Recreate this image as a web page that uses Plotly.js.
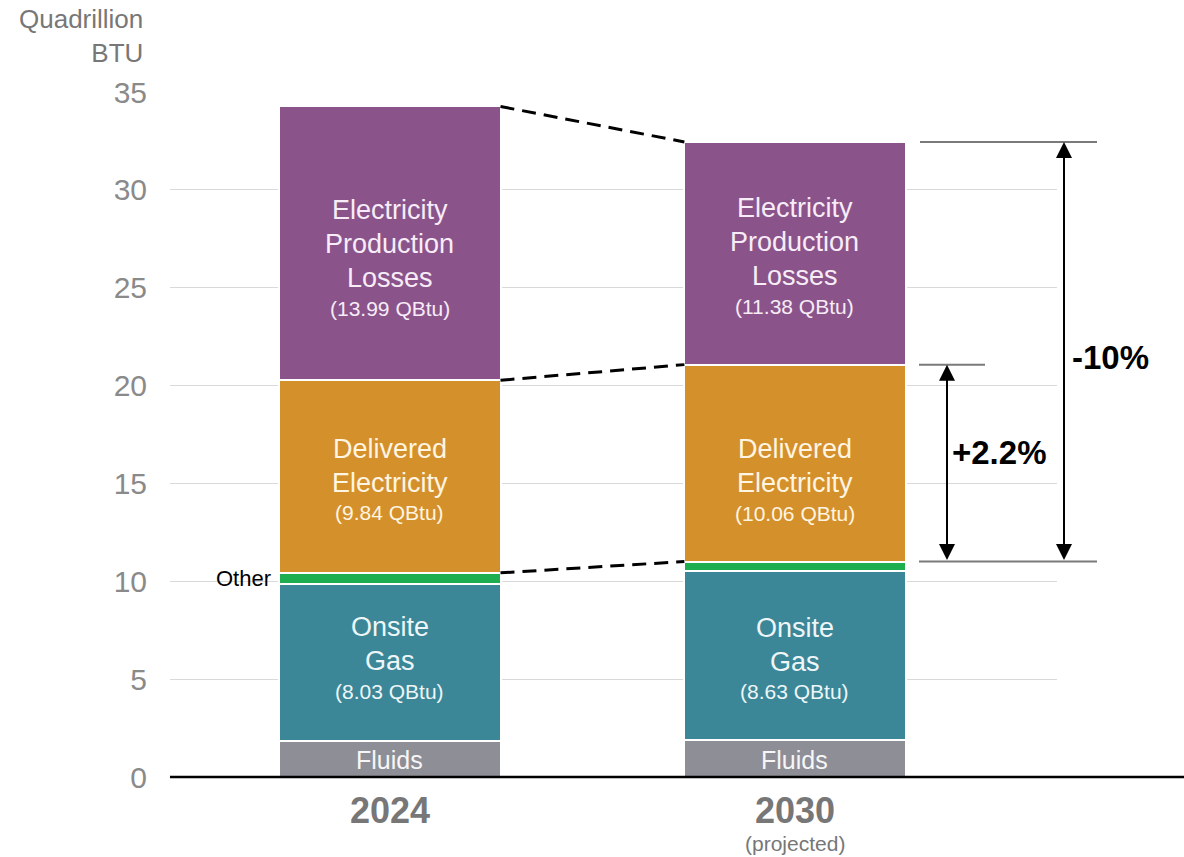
<!DOCTYPE html>
<html>
<head>
<meta charset="utf-8">
<script src="https://cdn.plot.ly/plotly-3.0.1.min.js"></script>
<style>html,body{margin:0;padding:0;background:#fff;}#chart{width:1184px;height:857px;}</style>
</head>
<body>
<div id="chart"></div>
<script>
// ---- data ----
const years = ["2024", "2030"];
const yearSub = ["", "(projected)"];
const segNames = ["Fluids", "Onsite Gas", "Other", "Delivered Electricity", "Electricity Production Losses"];
const segLines = [["Fluids"], ["Onsite", "Gas"], [], ["Delivered", "Electricity"], ["Electricity", "Production", "Losses"]];
const showValue = [false, true, false, true, true];
const fluids = [1.85, 1.88];
const onsiteGas = [8.03, 8.63];
const other = [0.55, 0.50];
const delivered = [9.84, 10.06];
const losses = [13.99, 11.38];
const deliveredChange = "+2.2%";
const electricityChange = "-10%";
const otherLabel = "Other";
const yAxisTitle = "Quadrillion<br>BTU";
const yTicks = [0, 5, 10, 15, 20, 25, 30, 35];

// ---- styles ----
const colors = ["#8e8e96", "#3b8798", "#1fae4f", "#d4902b", "#8a548b"];
const textColors = ["#f6f6f6", "#eef6f8", "#ffffff", "#fff5e2", "#f7ecf7"];
const mainSize = [25, 27, 27, 27, 27];
// pixel offset of each label block below its segment centre, per bar
const blockOffset = [[1, 1], [-3, 4], [0, 0], [4, 18], [16, 4]];
const font = "Liberation Sans, Arial, Helvetica, sans-serif";
const barW = 0.546;
const xIdx = [0, 1];
const LINE = 34, VALGAP = 30;

const series = [fluids, onsiteGas, other, delivered, losses];
const traces = series.map((vals, i) => ({
  type: "bar",
  name: segNames[i],
  x: xIdx,
  y: vals,
  width: [barW, barW],
  marker: { color: colors[i], line: { color: "#ffffff", width: 2 } },
  hoverinfo: "skip",
  showlegend: false
}));

// cumulative tops
const cum = xIdx.map(j => { let s = 0; return series.map(v => (s += v[j])); });

const annotations = [];
series.forEach((vals, i) => {
  const lines = segLines[i];
  if (!lines.length) return;
  xIdx.forEach(j => {
    const base = cum[j][i] - vals[j];
    const centre = base + vals[j] / 2;
    const items = lines.map(t => ({ t: t, size: mainSize[i] }));
    if (showValue[i]) items.push({ t: "(" + vals[j].toFixed(2) + " QBtu)", size: 21 });
    // vertical positions in px from block top
    const pos = [];
    let p = 0;
    items.forEach((it, k) => {
      if (k > 0) p += (k === lines.length ? VALGAP : LINE);
      pos.push(p);
    });
    const span = pos[pos.length - 1];
    items.forEach((it, k) => {
      const off = pos[k] - span / 2 + blockOffset[i][j];
      annotations.push({
        xref: "x", yref: "y", x: j, y: centre, yanchor: "middle",
        yshift: -off, text: it.t, showarrow: false,
        font: { family: font, size: it.size, color: textColors[i] }
      });
    });
  });
});

// "Other" label
annotations.push({
  xref: "paper", yref: "y", x: (273 - 170) / 887, xanchor: "right",
  y: cum[0][2] - other[0] / 2, text: otherLabel, showarrow: false,
  font: { family: font, size: 22, color: "#000" }
});

// year sub-label
annotations.push({
  xref: "x", yref: "paper", x: 1, y: -(843 - 777) / 685, yanchor: "middle",
  text: yearSub[1], showarrow: false,
  font: { family: font, size: 21, color: "#777" }
});

// y axis title
annotations.push({
  xref: "paper", yref: "paper", x: (145 - 170) / 887, xanchor: "right",
  y: (777 - 2) / 685, yanchor: "top",
  text: yAxisTitle, showarrow: false, align: "right",
  font: { family: font, size: 26, color: "#777" }
});

// change arrows
const xa = v => (v - 170) / 887;
const top30 = cum[1][4], del30 = cum[1][3], oth30 = cum[1][2];
const arrowBase = {
  xref: "paper", yref: "y", ax: 0, ayref: "y", text: "", showarrow: true,
  arrowside: "end+start", arrowhead: 2, startarrowhead: 2,
  arrowsize: 1.6, startarrowsize: 1.6, arrowwidth: 2, arrowcolor: "#000", standoff: 0, startstandoff: 0
};
annotations.push(Object.assign({}, arrowBase, { x: xa(947), y: del30, ay: oth30 }));
annotations.push(Object.assign({}, arrowBase, { x: xa(1064), y: top30, ay: oth30 }));
annotations.push({
  xref: "paper", yref: "y", x: xa(950), xanchor: "left", y: (oth30 + del30) / 2 + 0.55,
  text: "<b>" + deliveredChange + "</b>", showarrow: false,
  font: { family: font, size: 33, color: "#000" }
});
annotations.push({
  xref: "paper", yref: "y", x: xa(1070), xanchor: "left", y: (oth30 + top30) / 2 - 0.3,
  text: "<b>" + electricityChange + "</b>", showarrow: false,
  font: { family: font, size: 33, color: "#000" }
});

const shapes = [];
// base axis line
shapes.push({ type: "line", xref: "paper", yref: "paper", x0: 0, x1: (1184 - 170) / 887, y0: 0, y1: 0,
  line: { color: "#000", width: 2.5 } });
// dashed connectors
[4, 3, 2].forEach(i => {
  shapes.push({ type: "line", xref: "x", yref: "y",
    x0: 0 + barW / 2, y0: cum[0][i], x1: 1 - barW / 2, y1: cum[1][i],
    line: { color: "#000", width: 3, dash: "14px,8px" } });
});
// reference ticks for arrows
const refLine = { type: "line", xref: "paper", yref: "y", line: { color: "#7a7a7a", width: 2 } };
shapes.push(Object.assign({}, refLine, { x0: xa(920), x1: xa(1097), y0: top30, y1: top30 }));
shapes.push(Object.assign({}, refLine, { x0: xa(919), x1: xa(985), y0: del30, y1: del30 }));
shapes.push(Object.assign({}, refLine, { x0: xa(919), x1: xa(1097), y0: oth30, y1: oth30 }));

const layout = {
  width: 1184, height: 857,
  margin: { l: 170, r: 127, t: 92, b: 80, pad: 0 },
  paper_bgcolor: "#fff", plot_bgcolor: "#fff",
  barmode: "stack",
  showlegend: false,
  font: { family: font },
  xaxis: {
    range: [-0.543, 1.647], tickvals: xIdx, ticktext: years.map(y => "<b>" + y + "</b>"),
    tickfont: { family: font, size: 36, color: "#777" },
    showgrid: false, zeroline: false, showline: false, ticks: "", ticklabelstandoff: 9, fixedrange: true
  },
  yaxis: {
    range: [0, 35], tickvals: yTicks, ticks: "",
    tickfont: { family: font, size: 30, color: "#8a8a8a" },
    showgrid: true, gridcolor: "#d9d9d9", gridwidth: 1,
    zeroline: false, showline: false, ticklabelstandoff: 22, fixedrange: true
  },
  annotations: annotations,
  shapes: shapes
};

Plotly.newPlot("chart", traces, layout, { displayModeBar: false, staticPlot: true });
</script>
</body>
</html>
